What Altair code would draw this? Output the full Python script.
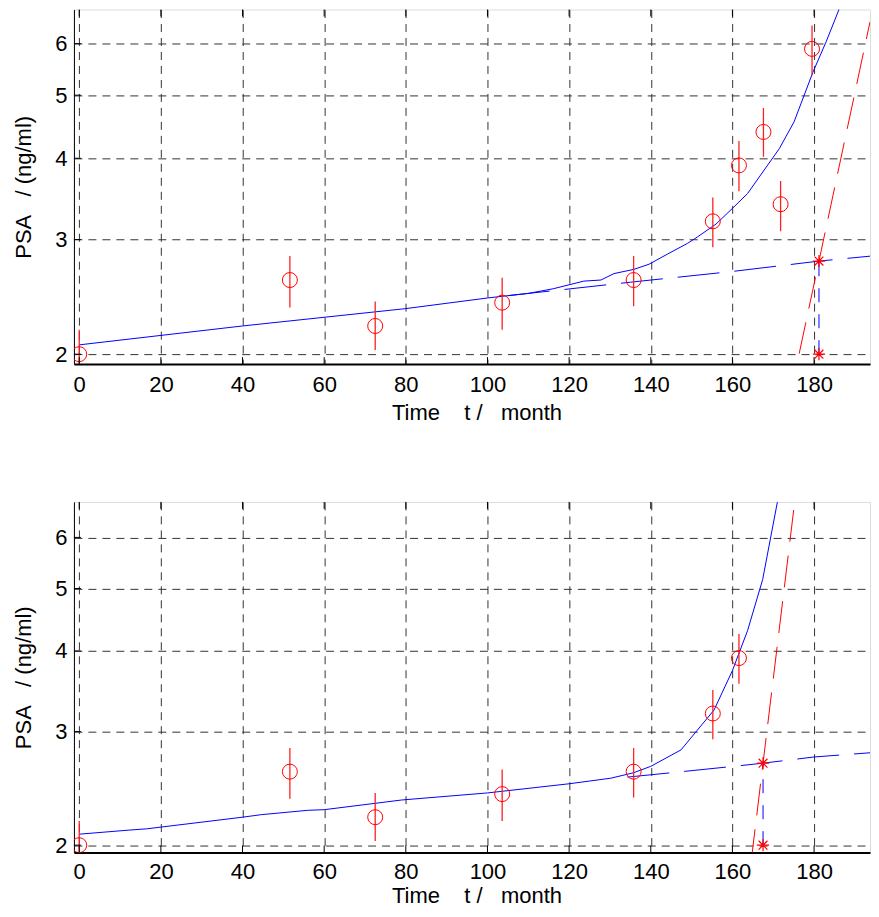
import altair as alt
import pandas as pd

# ---------------- data ----------------
# PSA measurements (month, ng/ml) with error bar limits
t_obs = [0, 51.6, 72.5, 103.6, 135.8, 155.2, 161.6, 167.6, 171.8, 179.5]
psa_obs = [2.00, 2.60, 2.21, 2.40, 2.60, 3.20, 3.90, 4.39, 3.40, 5.89]
psa_lo = [1.83, 2.36, 2.03, 2.18, 2.37, 2.92, 3.56, 4.02, 3.09, 5.37]
psa_hi = [2.18, 2.83, 2.41, 2.62, 2.83, 3.48, 4.25, 4.78, 3.69, 6.40]
n_obs = [10, 7]  # points used in the upper / lower panel

# fitted model curves (solid blue)
fit_t_top = [0, 40, 80, 100, 110, 116, 123.6, 127.8, 131, 135.9, 139.6, 144.1,
             149, 151.5, 156, 160, 163.7, 171.5, 175.1, 179.7, 183, 186.1, 188]
fit_v_top = [2.067, 2.21, 2.35, 2.44, 2.48, 2.52, 2.59, 2.60, 2.66, 2.70, 2.75, 2.85,
             2.96, 3.03, 3.17, 3.35, 3.53, 4.14, 4.55, 5.42, 6.05, 6.77, 7.2]
fit_t_bot = [0, 12, 16.5, 40, 44.6, 56, 60, 79, 100, 120, 130.2, 135.8, 140,
             147.4, 155.5, 160, 163.7, 167.4, 171, 172]
fit_v_bot = [2.08, 2.11, 2.12, 2.21, 2.23, 2.265, 2.27, 2.35, 2.41, 2.49, 2.54, 2.59, 2.65,
             2.81, 3.24, 3.73, 4.30, 5.16, 6.8, 7.2]

# baseline trend (dashed blue)
base_t_top = [105, 135, 160, 181.2, 196.5]
base_v_top = [2.46, 2.58, 2.68, 2.78, 2.84]
base_t_bot = [134.3, 145, 160.3, 167.5, 180, 196.5]
base_v_bot = [2.55, 2.59, 2.65, 2.68, 2.74, 2.79]

# exponential tangent (dashed red)
red_t_top = [174, 181.2, 193.7]
red_v_top = [1.71, 2.78, 6.48]
red_t_bot = [164.6, 167.5, 175.1]
red_v_bot = [1.89, 2.68, 6.69]

# crossing markers (asterisks) : month, upper value, lower value
cross_t = [181.2, 167.5]
cross_hi = [2.78, 2.68]
cross_lo = [2.0, 2.0]

# axes
x_ticks = [0, 20, 40, 60, 80, 100, 120, 140, 160, 180]
y_ticks = [2, 3, 4, 5, 6]
x_domain = [-1.3, 193.7]
y_domains = [[1.931, 6.77], [1.948, 6.81]]
heights = [355, 351]
title_pad = [7, 3]
label_pad = [10, 9]
WIDTH = 797
X_TITLE_CENTER = 403

X_TITLE = "Time\u00a0\u00a0\u00a0\u00a0t /\u00a0\u00a0\u00a0month"
Y_TITLE = "PSA\u00a0\u00a0\u00a0/ (ng/ml)"
FONT = "Liberation Sans"
ASTERISK = "M-1,0L1,0M0,-1L0,1M-0.72,-0.72L0.72,0.72M-0.72,0.72L0.72,-0.72"


def panel(i, fit_t, fit_v, base_t, base_v, red_t, red_v):
    H = heights[i]
    n = n_obs[i]
    obs = pd.DataFrame({"t": t_obs[:n], "psa": psa_obs[:n],
                        "lo": psa_lo[:n], "hi": psa_hi[:n]})
    fit = pd.DataFrame({"t": fit_t, "psa": fit_v})
    base = pd.DataFrame({"t": base_t, "psa": base_v})
    red = pd.DataFrame({"t": red_t, "psa": red_v})
    cross = pd.DataFrame({"t": [cross_t[i]], "lo": [cross_lo[i]], "hi": [cross_hi[i]]})
    stars = pd.DataFrame({"t": [cross_t[i], cross_t[i]],
                          "psa": [cross_hi[i], cross_lo[i]]})
    xt = pd.DataFrame({"t": x_ticks})
    yt = pd.DataFrame({"psa": y_ticks})

    xs = alt.Scale(domain=x_domain, nice=False, zero=False)
    ys = alt.Scale(type="log", domain=y_domains[i], nice=False)

    xaxis = alt.Axis(values=x_ticks, format="d", grid=True, gridDash=[8, 6],
                     gridColor="#333333", gridWidth=1, gridOpacity=1,
                     ticks=False, tickSize=0, domainColor="black", domainWidth=2,
                     labelFont=FONT, labelFontSize=22, labelColor="black",
                     labelPadding=label_pad[i], labelFlush=False,
                     title=X_TITLE, titleFont=FONT, titleX=X_TITLE_CENTER,
                     titleFontSize=22, titleFontWeight="normal", titleColor="black",
                     titlePadding=title_pad[i])
    yaxis = alt.Axis(values=y_ticks, format="d", grid=True, gridDash=[8, 6],
                     gridColor="#333333", gridWidth=1, gridOpacity=1,
                     ticks=False, tickSize=0, domainColor="black", domainWidth=1,
                     labelFont=FONT, labelFontSize=22, labelColor="black",
                     labelPadding=7, labelFlush=False,
                     title=Y_TITLE, titleFont=FONT,
                     titleFontSize=22, titleFontWeight="normal", titleColor="black",
                     titlePadding=19)

    base_layer = alt.Chart(fit).mark_line(color="blue", strokeWidth=1, clip=True).encode(
        x=alt.X("t:Q", scale=xs, axis=xaxis),
        y=alt.Y("psa:Q", scale=ys, axis=yaxis),
        order="t:Q",
    )
    dashed_blue = alt.Chart(base).mark_line(color="blue", strokeWidth=1, strokeDash=[42, 15],
                                            clip=True).encode(
        x="t:Q", y="psa:Q", order="t:Q")
    dashed_red = alt.Chart(red).mark_line(color="red", strokeWidth=1, strokeDash=[32, 14],
                                          clip=True).encode(
        x="t:Q", y="psa:Q", order="t:Q")
    vert = alt.Chart(cross).mark_rule(color="blue", strokeWidth=1, strokeDash=[14, 12],
                                      clip=True).encode(
        x="t:Q", y="lo:Q", y2="hi:Q")
    ebar = alt.Chart(obs).mark_rule(color="#ff2020", strokeWidth=1.3, clip=True).encode(
        x="t:Q", y="lo:Q", y2="hi:Q")
    circ = alt.Chart(obs).mark_point(shape="circle", size=225, color="red", filled=False,
                                     strokeWidth=1, opacity=1, clip=True).encode(
        x="t:Q", y="psa:Q")
    star = alt.Chart(stars).mark_point(shape=ASTERISK, size=150, color="red", filled=False,
                                       strokeWidth=1.2, opacity=1, clip=True).encode(
        x="t:Q", y="psa:Q")
    # inward tick marks (MATLAB style)
    tick_b = alt.Chart(xt).mark_rule(color="black", strokeWidth=1).encode(
        x="t:Q", y=alt.value(H), y2=alt.value(H - 7))
    tick_t = alt.Chart(xt).mark_rule(color="black", strokeWidth=1).encode(
        x="t:Q", y=alt.value(0), y2=alt.value(7))
    tick_l = alt.Chart(yt).mark_rule(color="black", strokeWidth=1).encode(
        y="psa:Q", x=alt.value(0), x2=alt.value(7))

    return alt.layer(base_layer, dashed_blue, dashed_red, vert, ebar, circ, star,
                     tick_b, tick_t, tick_l).properties(width=WIDTH, height=H)


top = panel(0, fit_t_top, fit_v_top, base_t_top, base_v_top, red_t_top, red_v_top)
bot = panel(1, fit_t_bot, fit_v_bot, base_t_bot, base_v_bot, red_t_bot, red_v_bot)

chart = alt.vconcat(top, bot, spacing=77).properties(
    padding={"left": 4, "top": 0, "right": 0, "bottom": 0}
).configure_view(stroke="#555555", strokeWidth=1).configure(background="white")

chart.save("out.html", embed_options={"renderer": "svg", "actions": False})
